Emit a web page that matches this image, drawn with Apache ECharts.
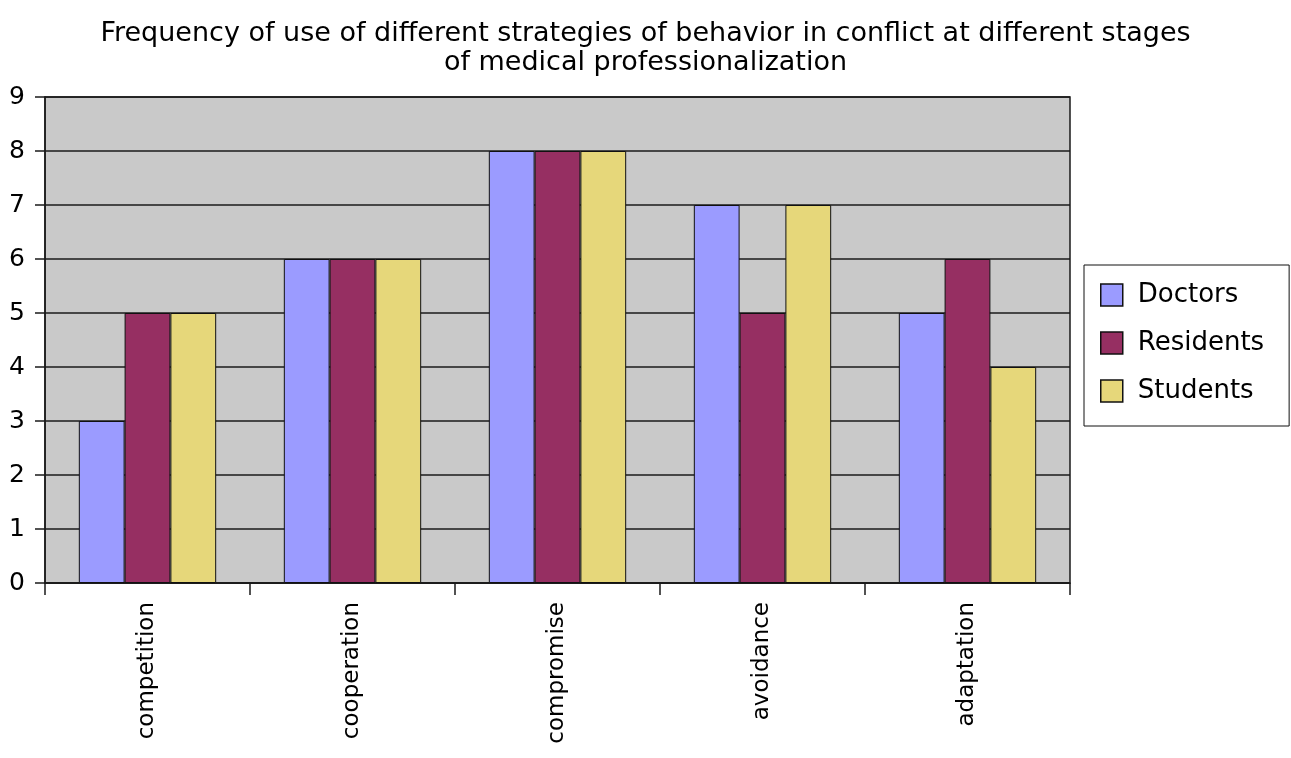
<!DOCTYPE html>
<html>
<head>
<meta charset="utf-8">
<script src="https://cdn.jsdelivr.net/npm/echarts@6/dist/echarts.min.js"></script>
<style>
  html, body { margin: 0; padding: 0; background: #fff; }
  #chart { width: 1291px; height: 758px; }
</style>
</head>
<body>
<div id="chart"></div>
<script>
// strategies of behavior in conflict
var categories = ["competition", "cooperation", "compromise", "avoidance", "adaptation"];
var doctors = [3, 6, 8, 7, 5];
var residents = [5, 6, 8, 5, 6];
var students = [5, 6, 8, 7, 4];
var yTicks = [0, 1, 2, 3, 4, 5, 6, 7, 8, 9];

var font = "DejaVu Sans";
var myChart = echarts.init(document.getElementById("chart"));

function barSeries(name, data, color) {
  return {
    name: name,
    type: "bar",
    data: data,
    barGap: "0%",
    barCategoryGap: "33%",
    itemStyle: { color: color, borderColor: "#111", borderWidth: 1 },
    emphasis: { disabled: true }
  };
}

var option = {
  animation: false,
  title: {
    text: "Frequency of use of different strategies of behavior in conflict at different stages\nof medical professionalization",
    left: "center",
    top: 14,
    textStyle: { fontFamily: font, fontSize: 27, fontWeight: "normal", color: "#000", lineHeight: 29 }
  },
  grid: {
    left: 45, right: 221, top: 97, bottom: 175,
    show: true,
    backgroundColor: "#c9c9c9",
    borderColor: "#1a1a1a",
    borderWidth: 1.5
  },
  legend: {
    data: ["Doctors", "Residents", "Students"],
    orient: "vertical",
    left: 1084,
    top: 265,
    itemWidth: 22,
    itemHeight: 22,
    itemGap: 22,
    padding: [17, 25, 22, 16],
    backgroundColor: "#fff",
    borderColor: "#111",
    borderWidth: 1,
    icon: "rect",
    itemStyle: { borderColor: "#111", borderWidth: 1.5 },
    textStyle: { fontFamily: font, fontSize: 26, color: "#000", padding: [0, 0, 0, 10] }
  },
  xAxis: {
    type: "category",
    data: categories,
    axisLine: { lineStyle: { color: "#1a1a1a", width: 1.5 } },
    axisTick: { show: true, length: 12, lineStyle: { color: "#1a1a1a", width: 1.5 } },
    axisLabel: { rotate: 90, margin: 19, fontFamily: font, fontSize: 23, color: "#000" }
  },
  yAxis: {
    type: "value",
    min: yTicks[0],
    max: yTicks[yTicks.length - 1],
    interval: 1,
    axisLine: { show: true, lineStyle: { color: "#1a1a1a", width: 1.5 } },
    axisTick: { show: true, length: 10, lineStyle: { color: "#1a1a1a", width: 1.5 } },
    splitLine: { show: true, lineStyle: { color: "#1a1a1a", width: 1.5 } },
    axisLabel: { margin: 20, fontFamily: font, fontSize: 25, color: "#000" }
  },
  series: [
    barSeries("Doctors", doctors, "#9b9bff"),
    barSeries("Residents", residents, "#962f62"),
    barSeries("Students", students, "#e6d77a")
  ]
};
myChart.setOption(option);
</script>
</body>
</html>
